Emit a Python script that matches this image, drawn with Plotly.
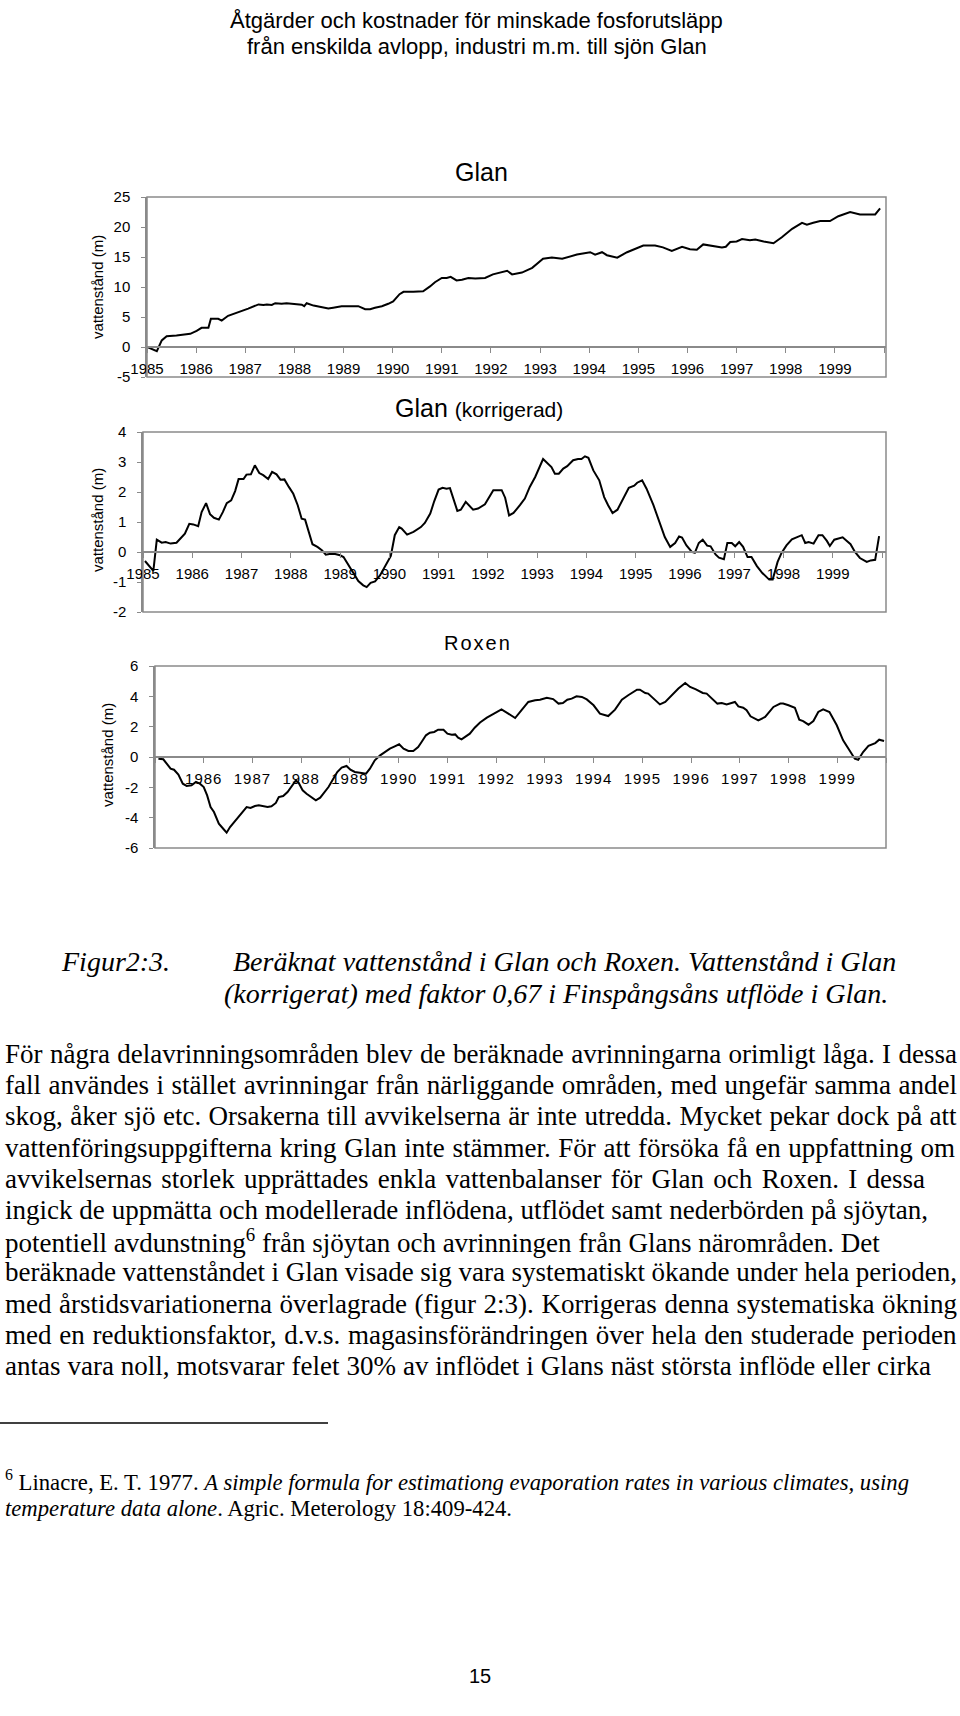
import json
import plotly.graph_objects as go

# ---------------- data ----------------
glan_t = [1985.0, 1985.2, 1985.3, 1985.4, 1985.6, 1985.71, 1985.88, 1986.01, 1986.11, 1986.25, 1986.3, 1986.45,
          1986.52, 1986.65, 1986.83, 1986.93, 1987.06, 1987.27, 1987.37, 1987.44, 1987.54, 1987.61, 1987.74,
          1987.84, 1987.98, 1988.15, 1988.2, 1988.25, 1988.39, 1988.56, 1988.69, 1988.79, 1988.96, 1989.2,
          1989.3, 1989.44, 1989.54, 1989.64, 1989.78, 1989.91, 1990.01, 1990.14, 1990.22, 1990.42, 1990.56,
          1990.62, 1990.76, 1990.86, 1991.0, 1991.1, 1991.18, 1991.3, 1991.41, 1991.54, 1991.68, 1991.78,
          1991.88, 1992.04, 1992.33, 1992.43, 1992.63, 1992.84, 1993.06, 1993.24, 1993.45, 1993.75, 1994.02,
          1994.12, 1994.26, 1994.36, 1994.57, 1994.77, 1994.97, 1995.1, 1995.34, 1995.5, 1995.68, 1995.89,
          1996.05, 1996.19, 1996.32, 1996.52, 1996.7, 1996.78, 1996.87, 1997.0, 1997.11, 1997.27, 1997.38,
          1997.55, 1997.65, 1997.75, 1997.92, 1998.13, 1998.33, 1998.43, 1998.56, 1998.7, 1998.9, 1999.07,
          1999.31, 1999.51, 1999.82, 1999.92]
glan_v = [0, -0.7, 1.1, 1.8, 1.9, 2.0, 2.2, 2.7, 3.2, 3.2, 4.7, 4.7,
          4.4, 5.2, 5.7, 6.1, 6.4, 7.1, 7.0, 7.1, 7.0, 7.3, 7.2,
          7.3, 7.2, 7.05, 6.8, 7.3, 6.9, 6.55, 6.4, 6.55, 6.8, 6.8,
          6.8, 6.3, 6.3, 6.55, 6.8, 7.2, 7.6, 8.8, 9.2, 9.2, 9.3,
          9.3, 10.1, 10.8, 11.5, 11.5, 11.7, 11.1, 11.2, 11.5, 11.4, 11.4,
          11.5, 12.1, 12.7, 12.1, 12.4, 13.2, 14.7, 14.9, 14.7, 15.4, 15.8,
          15.4, 15.8, 15.3, 14.9, 15.8, 16.4, 16.9, 16.9, 16.6, 16.0, 16.7,
          16.3, 16.2, 17.1, 16.9, 16.6, 16.7, 17.5, 17.6, 18.0, 17.8, 17.9,
          17.6, 17.5, 17.3, 18.3, 19.7, 20.7, 20.4, 20.7, 21.0, 21.0, 21.8,
          22.5, 22.1, 22.1, 23.1]

glank_t = [1985.04, 1985.21, 1985.28, 1985.38, 1985.46, 1985.56, 1985.68, 1985.79, 1985.85, 1985.94, 1986.02,
           1986.12, 1986.19, 1986.28, 1986.36, 1986.44, 1986.54, 1986.62, 1986.7, 1986.79, 1986.87, 1986.94,
           1987.04, 1987.1, 1987.19, 1987.27, 1987.36, 1987.44, 1987.54, 1987.62, 1987.71, 1987.79, 1987.87,
           1987.96, 1988.05, 1988.14, 1988.22, 1988.29, 1988.36, 1988.44, 1988.54, 1988.63, 1988.71, 1988.81,
           1988.9, 1989.0, 1989.07, 1989.17, 1989.27, 1989.37, 1989.47, 1989.54, 1989.62, 1989.71, 1989.81,
           1989.91, 1990.03, 1990.11, 1990.2, 1990.25, 1990.36, 1990.49, 1990.64, 1990.72, 1990.83, 1990.91,
           1991.0, 1991.08, 1991.16, 1991.23, 1991.38, 1991.45, 1991.55, 1991.7, 1991.8, 1991.94, 1992.11,
           1992.28, 1992.35, 1992.43, 1992.52, 1992.65, 1992.75, 1992.85, 1992.96, 1993.12, 1993.22, 1993.29,
           1993.36, 1993.44, 1993.53, 1993.61, 1993.73, 1993.83, 1993.9, 1993.97, 1994.04, 1994.14, 1994.26,
           1994.36, 1994.44, 1994.53, 1994.63, 1994.75, 1994.86, 1994.97, 1995.03, 1995.13, 1995.22, 1995.36,
           1995.49, 1995.59, 1995.7, 1995.8, 1995.88, 1995.94, 1996.03, 1996.14, 1996.2, 1996.28, 1996.36,
           1996.45, 1996.52, 1996.62, 1996.69, 1996.79, 1996.86, 1996.95, 1997.02, 1997.1, 1997.18, 1997.27,
           1997.35, 1997.46, 1997.57, 1997.66, 1997.71, 1997.78, 1997.88, 1997.96, 1998.06, 1998.17, 1998.27,
           1998.37, 1998.44, 1998.51, 1998.61, 1998.71, 1998.79, 1998.88, 1998.94, 1999.03, 1999.2, 1999.28,
           1999.36, 1999.45, 1999.55, 1999.69, 1999.77, 1999.86, 1999.94]
glank_v = [-0.3, -0.63, 0.41, 0.31, 0.33, 0.28, 0.31, 0.5, 0.61, 0.94, 0.92,
           0.86, 1.33, 1.63, 1.26, 1.14, 1.08, 1.33, 1.63, 1.72, 2.03, 2.43,
           2.43, 2.58, 2.59, 2.89, 2.63, 2.56, 2.43, 2.67, 2.59, 2.41, 2.42,
           2.17, 1.94, 1.56, 1.11, 1.08, 0.67, 0.26, 0.17, 0.06, -0.09, -0.06,
           -0.07, -0.11, -0.17, -0.44, -0.74, -0.97, -1.11, -1.17, -1.03, -0.98, -0.78,
           -0.5, -0.13, 0.56, 0.83, 0.78, 0.58, 0.67, 0.83, 0.97, 1.28, 1.69,
           2.08, 2.14, 2.11, 2.13, 1.37, 1.41, 1.67, 1.41, 1.45, 1.59, 2.06,
           2.06, 1.81, 1.22, 1.3, 1.56, 1.78, 2.17, 2.5, 3.1, 2.94, 2.83,
           2.61, 2.61, 2.78, 2.86, 3.06, 3.1, 3.1, 3.19, 3.14, 2.72, 2.39,
           1.83, 1.56, 1.3, 1.41, 1.78, 2.14, 2.21, 2.31, 2.39, 2.11, 1.56,
           0.94, 0.5, 0.17, 0.3, 0.52, 0.48, 0.22, 0.0, -0.03, 0.3, 0.41,
           0.21, 0.19, -0.08, -0.19, -0.24, 0.3, 0.3, 0.19, 0.33, 0.17, -0.17,
           -0.17, -0.47, -0.7, -0.83, -0.92, -0.92, -0.33, -0.03, 0.22, 0.42, 0.5,
           0.56, 0.3, 0.33, 0.28, 0.56, 0.56, 0.37, 0.2, 0.41, 0.49, 0.39,
           0.26, 0.0, -0.2, -0.33, -0.28, -0.26, 0.53]

roxen_t = [1985.07, 1985.17, 1985.24, 1985.32, 1985.39, 1985.48, 1985.57, 1985.65, 1985.75, 1985.84, 1985.92,
           1986.0, 1986.07, 1986.14, 1986.21, 1986.31, 1986.4, 1986.47, 1986.54, 1986.61, 1986.71, 1986.8,
           1986.88, 1986.96, 1987.05, 1987.13, 1987.22, 1987.31, 1987.39, 1987.48, 1987.54, 1987.63, 1987.72,
           1987.8, 1987.89, 1987.95, 1988.03, 1988.11, 1988.21, 1988.3, 1988.39, 1988.47, 1988.56, 1988.65,
           1988.74, 1988.83, 1988.93, 1989.01, 1989.1, 1989.24, 1989.33, 1989.41, 1989.51, 1989.62, 1989.72,
           1989.82, 1989.92, 1990.01, 1990.1, 1990.2, 1990.3, 1990.4, 1990.47, 1990.56, 1990.64, 1990.73,
           1990.81, 1990.92, 1991.0, 1991.09, 1991.16, 1991.22, 1991.29, 1991.36, 1991.46, 1991.56, 1991.67,
           1991.81, 1991.94, 1992.11, 1992.25, 1992.39, 1992.53, 1992.66, 1992.8, 1992.9, 1993.04, 1993.17,
           1993.28, 1993.37, 1993.46, 1993.55, 1993.65, 1993.76, 1993.86, 1994.0, 1994.13, 1994.3, 1994.44,
           1994.58, 1994.71, 1994.89, 1994.95, 1995.06, 1995.12, 1995.23, 1995.36, 1995.47, 1995.6, 1995.74,
           1995.88, 1995.98, 1996.1, 1996.24, 1996.32, 1996.42, 1996.54, 1996.63, 1996.73, 1996.9, 1996.97,
           1997.07, 1997.14, 1997.22, 1997.38, 1997.52, 1997.69, 1997.83, 1997.89, 1998.0, 1998.13, 1998.22,
           1998.3, 1998.41, 1998.51, 1998.61, 1998.71, 1998.84, 1998.99, 1999.12, 1999.26, 1999.36, 1999.43,
           1999.53, 1999.64, 1999.78, 1999.86, 1999.96]
roxen_v = [-0.11, -0.15, -0.44, -0.77, -0.84, -1.16, -1.76, -1.91, -1.87, -1.65, -1.76,
           -1.98, -2.53, -3.3, -3.63, -4.4, -4.73, -4.99, -4.62, -4.35, -3.96, -3.56,
           -3.3, -3.36, -3.23, -3.19, -3.25, -3.3, -3.25, -3.03, -2.64, -2.57, -2.31,
           -1.91, -1.54, -1.71, -2.2, -2.42, -2.64, -2.86, -2.68, -2.37, -1.98, -1.49,
           -0.99, -0.7, -0.59, -0.84, -0.99, -1.05, -1.1, -0.77, -0.22, 0.11, 0.33,
           0.55, 0.7, 0.84, 0.55, 0.4, 0.4, 0.66, 0.99, 1.43, 1.6, 1.65,
           1.8, 1.8, 1.54, 1.47, 1.49, 1.27, 1.16, 1.32, 1.54, 1.93, 2.28,
           2.59, 2.81, 3.14, 2.86, 2.57, 3.12, 3.63, 3.74, 3.78, 3.91, 3.82,
           3.52, 3.56, 3.78, 3.85, 4.0, 3.96, 3.8, 3.41, 2.86, 2.7, 3.12,
           3.78, 4.07, 4.44, 4.44, 4.22, 4.18, 3.85, 3.47, 3.63, 4.07, 4.51,
           4.88, 4.62, 4.46, 4.22, 4.18, 3.85, 3.52, 3.56, 3.47, 3.63, 3.34,
           3.25, 3.08, 2.68, 2.42, 2.64, 3.3, 3.52, 3.52, 3.41, 3.25, 2.46,
           2.37, 2.13, 2.37, 2.97, 3.14, 2.97, 2.09, 1.1, 0.44, -0.11, -0.18,
           0.33, 0.73, 0.92, 1.14, 1.05]

year_ticks = list(range(1985, 2001))
year_labels = [str(y) for y in range(1985, 2000)] + [""]
roxen_labels = [""] + [str(y) for y in range(1986, 2000)] + [""]

glan_yticks = [-5, 0, 5, 10, 15, 20, 25]
glank_yticks = [-2, -1, 0, 1, 2, 3, 4]
roxen_yticks = [-6, -4, -2, 0, 2, 4, 6]

header_lines = ["Åtgärder och kostnader för minskade fosforutsläpp",
                "från enskilda avlopp, industri m.m. till sjön Glan"]
chart_titles = ["Glan", "Glan", "(korrigerad)", "Roxen"]
y_title = "vattenstånd (m)"
caption_label = "Figur2:3."
caption_lines = ["Beräknat vattenstånd i Glan och Roxen. Vattenstånd i Glan",
                 "(korrigerat) med faktor 0,67 i Finspångsåns utflöde i Glan."]
body_lines = [
    "För några delavrinningsområden blev de beräknade avrinningarna orimligt låga. I dessa",
    "fall användes i stället avrinningar från närliggande områden, med ungefär samma andel",
    "skog, åker sjö etc. Orsakerna till avvikelserna är inte utredda. Mycket pekar dock på att",
    "vattenföringsuppgifterna kring Glan inte stämmer. För att försöka få en uppfattning om",
    "avvikelsernas storlek upprättades enkla vattenbalanser för Glan och Roxen. I dessa",
    "ingick de uppmätta och modellerade inflödena, utflödet samt nederbörden på sjöytan,",
    "potentiell avdunstning<sup>6</sup> från sjöytan och avrinningen från Glans närområden. Det",
    "beräknade vattenståndet i Glan visade sig vara systematiskt ökande under hela perioden,",
    "med årstidsvariationerna överlagrade (figur 2:3). Korrigeras denna systematiska ökning",
    "med en reduktionsfaktor, d.v.s. magasinsförändringen över hela den studerade perioden",
    "antas vara noll, motsvarar felet 30% av inflödet i Glans näst största inflöde eller cirka",
]
# right edge (page px) at which each printed body line ends (None = natural width)
body_right = [957, 957, 957, 955, 925, 928, None, 957, 957, 957, 931]
footnote_lines = [
    "<sup>6</sup> Linacre, E. T. 1977. <i>A simple formula for estimationg evaporation rates in various climates, using</i>",
    "<i>temperature data alone</i>. Agric. Meterology 18:409-424.",
]
page_number = "15"

# ---------------- layout helpers ----------------
W, H = 960, 1716


def px(x):
    return x / W


def py(y):
    return 1 - y / H


SANS = "Liberation Sans, Arial, sans-serif"
SERIF = "Liberation Serif, Times New Roman, serif"
GRAY = "#8a8a8a"

fig = go.Figure()
for t, v, xa, ya in [(glan_t, glan_v, "x", "y"), (glank_t, glank_v, "x2", "y2"), (roxen_t, roxen_v, "x3", "y3")]:
    fig.add_trace(go.Scatter(x=t, y=v, mode="lines", line=dict(color="black", width=2),
                             xaxis=xa, yaxis=ya, showlegend=False, hoverinfo="skip"))


def xaxis(left, right, rng, zero_y, labels):
    return dict(domain=[px(left), px(right)], range=rng, anchor="free", position=py(zero_y),
                showline=True, linecolor=GRAY, linewidth=1.5, ticks="outside", ticklen=5,
                tickcolor=GRAY, tickwidth=1, tickvals=year_ticks, ticktext=labels,
                tickfont=dict(family=SANS, size=15, color="black"), ticklabelstandoff=3,
                showgrid=False, zeroline=False, fixedrange=True, automargin=False)


def yaxis(top, bottom, rng, ticks, anchor):
    return dict(domain=[py(bottom), py(top)], range=rng, anchor=anchor, showline=True,
                linecolor=GRAY, linewidth=1.5, ticks="outside", ticklen=4, tickcolor=GRAY,
                tickvals=ticks, ticktext=[str(v) for v in ticks],
                tickfont=dict(family=SANS, size=15, color="black"),
                ticklabelstandoff=8, showgrid=False, zeroline=False, fixedrange=True, automargin=False)


fig.update_layout(
    width=W, height=H, margin=dict(l=0, r=0, t=0, b=0, pad=0, autoexpand=False),
    paper_bgcolor="white", plot_bgcolor="white",
    xaxis=xaxis(147, 886, [1985, 2000.04], 347, year_labels),
    yaxis=yaxis(197, 377, [-5, 25], glan_yticks, "x"),
    xaxis2=xaxis(143, 886, [1985, 2000.08], 552, year_labels),
    yaxis2=yaxis(432, 612, [-2, 4], glank_yticks, "x2"),
    xaxis3=xaxis(155, 886, [1985, 2000.0], 757,
                 ["<span style='letter-spacing:1px'>" + s + "</span>" if s else s for s in roxen_labels]),
    yaxis3=yaxis(666, 848, [-6, 6], roxen_yticks, "x3"),
)

shapes = []
for xa, ya in [("x", "y"), ("x2", "y2"), ("x3", "y3")]:
    shapes.append(dict(type="rect", xref=f"{xa} domain", yref=f"{ya} domain", x0=0, x1=1, y0=0, y1=1,
                       line=dict(color=GRAY, width=1.5)))
shapes.append(dict(type="line", xref="paper", yref="paper", x0=0, x1=px(328), y0=py(1423), y1=py(1423),
                   line=dict(color="black", width=1.5)))
fig.update_layout(shapes=shapes)

ann = []


def text(s, x, y, size, family=SANS, xanchor="center", angle=0):
    ann.append(dict(text=s, x=px(x), y=py(y), xref="paper", yref="paper", showarrow=False,
                    xanchor=xanchor, yanchor="middle", textangle=angle, align=xanchor,
                    borderpad=0, font=dict(family=family, size=size, color="black")))
    return len(ann) - 1


# header
text(header_lines[0], 476, 20, 22)
text(header_lines[1], 477, 46, 22)

# chart titles
text(chart_titles[0], 481, 172, 25)
text(chart_titles[1] + " <span style='font-size:21px'>" + chart_titles[2] + "</span>", 479, 408, 25)
text("<span style='letter-spacing:2px'>" + chart_titles[3] + "</span>", 478, 643, 20)

# y axis titles
text(y_title, 98, 287, 15, angle=-90)
text(y_title, 98, 520, 15, angle=-90)
text(y_title, 108, 755, 15, angle=-90)

# caption
text("<i>" + caption_label + "</i>", 60, 961, 28, SERIF, "left")
text("<i>" + caption_lines[0] + "</i>", 232, 961, 28, SERIF, "left")
text("<i>" + caption_lines[1] + "</i>", 223, 993, 28, SERIF, "left")

# body
justify = {}
for i, line in enumerate(body_lines):
    k = text(line, 4, 1054 + i * 31.2, 27, SERIF, "left")
    if body_right[i] is not None:
        justify[str(k)] = body_right[i]

# footnote
text(footnote_lines[0], 4, 1480, 22.7, SERIF, "left")
text(footnote_lines[1], 4, 1508, 22.7, SERIF, "left")

text(page_number, 480, 1676, 20)

fig.update_layout(annotations=ann)

post = """
document.documentElement.style.margin = '0';
document.body.style.margin = '0';
document.documentElement.style.overflow = 'hidden';
document.body.style.overflow = 'hidden';
var gd = document.getElementById('{plot_id}');
var targets = JUSTIFY;
var groups = gd.querySelectorAll('g.annotation');
for (var j = 0; j < groups.length; j++) {
  var g = groups[j];
  var idx = g.getAttribute('data-index');
  if (!(idx in targets)) continue;
  var t = g.querySelector('text.annotation-text');
  if (!t) continue;
  var n = (t.textContent.match(/ /g) || []).length;
  if (!n) continue;
  var r = t.getBoundingClientRect();
  var ws = (targets[idx] - r.right) / n;
  t.style.wordSpacing = ws + 'px';
}
""".replace("JUSTIFY", json.dumps(justify))

fig.write_html("out.html", post_script=post, config={"displayModeBar": False})
